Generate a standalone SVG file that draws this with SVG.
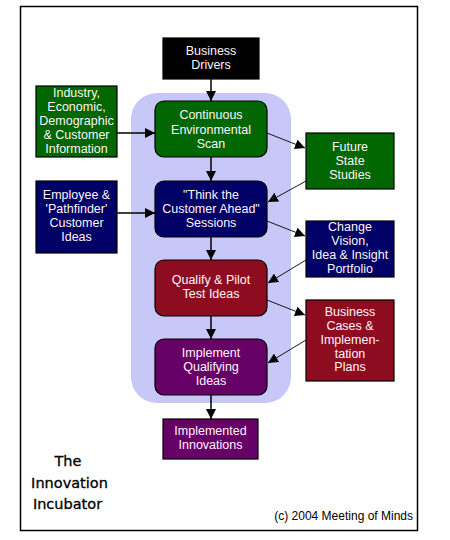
<svg xmlns="http://www.w3.org/2000/svg" width="450" height="540" viewBox="0 0 450 540">
<style>
.t{font-family:"Liberation Sans",Arial,sans-serif;font-size:12.5px;fill:#fff4f8;text-anchor:middle}
.b{stroke:#000;stroke-width:1.2}
.c line{stroke:#000}
.v{stroke-width:1.5}
.d{stroke-width:0.9}
.g{fill:#006600}.n{fill:#000066}.r{fill:#8e0c20}.p{fill:#660066}
</style>
<defs>
<marker id="ah" viewBox="0 0 10 10" refX="10" refY="5" markerWidth="10" markerHeight="10" markerUnits="userSpaceOnUse" orient="auto">
<path d="M0,0 L10,5 L0,10 z" fill="#000"/>
</marker>
</defs>
<rect x="0" y="0" width="450" height="540" fill="#fff"/>
<rect x="20.5" y="6.5" width="397" height="524" fill="#fff" stroke="#000" stroke-width="1.5"/>
<rect id="incubator" x="131" y="93" width="160" height="310" rx="26" fill="#c8c8f8"/>
<g class="c">
<line class="v" x1="211" y1="79" x2="211" y2="101" marker-end="url(#ah)"/>
<line class="v" x1="117" y1="133" x2="155" y2="133" marker-end="url(#ah)"/>
<line class="d" x1="267" y1="133" x2="305" y2="148" marker-end="url(#ah)"/>
<line class="d" x1="306" y1="181" x2="268" y2="202" marker-end="url(#ah)"/>
<line class="v" x1="211" y1="157" x2="211" y2="181" marker-end="url(#ah)"/>
<line class="v" x1="117" y1="213" x2="155" y2="213" marker-end="url(#ah)"/>
<line class="d" x1="267" y1="221" x2="305" y2="236" marker-end="url(#ah)"/>
<line class="d" x1="306" y1="260" x2="268" y2="283" marker-end="url(#ah)"/>
<line class="v" x1="211" y1="237" x2="211" y2="260" marker-end="url(#ah)"/>
<line class="d" x1="267" y1="300" x2="305" y2="315" marker-end="url(#ah)"/>
<line class="d" x1="306" y1="340" x2="268" y2="363" marker-end="url(#ah)"/>
<line class="v" x1="211" y1="316" x2="211" y2="339" marker-end="url(#ah)"/>
<line class="v" x1="211" y1="395" x2="211" y2="419" marker-end="url(#ah)"/>
</g>
<g id="business-drivers"><rect class="b" x="163" y="38" width="96" height="41" fill="#000"/>
<text class="t" x="211"><tspan x="211" y="55">Business</tspan><tspan x="211" y="68.5">Drivers</tspan></text></g>
<g id="industry"><rect class="b g" x="36" y="86" width="81" height="71"/>
<text class="t"><tspan x="76.5" y="97">Industry,</tspan><tspan x="76.5" y="111">Economic,</tspan><tspan x="76.5" y="125">Demographic</tspan><tspan x="76.5" y="139">&amp; Customer</tspan><tspan x="76.5" y="153">Information</tspan></text></g>
<g id="scan"><rect class="b g" x="155" y="101" width="112" height="56" rx="9"/>
<text class="t"><tspan x="211" y="119">Continuous</tspan><tspan x="211" y="133.5">Environmental</tspan><tspan x="211" y="148">Scan</tspan></text></g>
<g id="future-state"><rect class="b g" x="306" y="133" width="88" height="56"/>
<text class="t"><tspan x="350" y="151">Future</tspan><tspan x="350" y="165">State</tspan><tspan x="350" y="179">Studies</tspan></text></g>
<g id="employee"><rect class="b n" x="36" y="181" width="81" height="72"/>
<text class="t"><tspan x="76.5" y="199">Employee &amp;</tspan><tspan x="76.5" y="213">'Pathfinder'</tspan><tspan x="76.5" y="227">Customer</tspan><tspan x="76.5" y="241">Ideas</tspan></text></g>
<g id="think"><rect class="b n" x="155" y="181" width="112" height="56" rx="9"/>
<text class="t"><tspan x="211" y="199">"Think the</tspan><tspan x="211" y="212.5">Customer Ahead"</tspan><tspan x="211" y="226.5">Sessions</tspan></text></g>
<g id="change-vision"><rect class="b n" x="306" y="221" width="88" height="56"/>
<text class="t"><tspan x="350" y="231">Change</tspan><tspan x="350" y="244.5">Vision,</tspan><tspan x="350" y="258.5">Idea &amp; Insight</tspan><tspan x="350" y="272.5">Portfolio</tspan></text></g>
<g id="qualify"><rect class="b r" x="155" y="260" width="112" height="56" rx="9"/>
<text class="t"><tspan x="211" y="284">Qualify &amp; Pilot</tspan><tspan x="211" y="298">Test Ideas</tspan></text></g>
<g id="business-cases"><rect class="b r" x="306" y="300" width="88" height="81"/>
<text class="t"><tspan x="350" y="316">Business</tspan><tspan x="350" y="329.5">Cases &amp;</tspan><tspan x="350" y="343.5">Implemen-</tspan><tspan x="350" y="357.5">tation</tspan><tspan x="350" y="371">Plans</tspan></text></g>
<g id="implement"><rect class="b p" x="155" y="339" width="112" height="56" rx="9"/>
<text class="t"><tspan x="211" y="357">Implement</tspan><tspan x="211" y="370.5">Qualifying</tspan><tspan x="211" y="385">Ideas</tspan></text></g>
<g id="implemented"><rect class="b p" x="163" y="419" width="95" height="40"/>
<text class="t"><tspan x="210.5" y="435">Implemented</tspan><tspan x="210.5" y="449">Innovations</tspan></text></g>
<g id="title" font-family="DejaVu Sans,Verdana,sans-serif" font-size="14.5" fill="#000" stroke="#000" stroke-width="0.3" text-anchor="middle">
<text x="68" y="466">The</text><text x="69.5" y="488">Innovation</text><text x="67.5" y="509">Incubator</text></g>
<text x="413" y="520" font-family="Liberation Sans,Arial,sans-serif" font-size="12" fill="#000" text-anchor="end">(c) 2004 Meeting of Minds</text>
</svg>
